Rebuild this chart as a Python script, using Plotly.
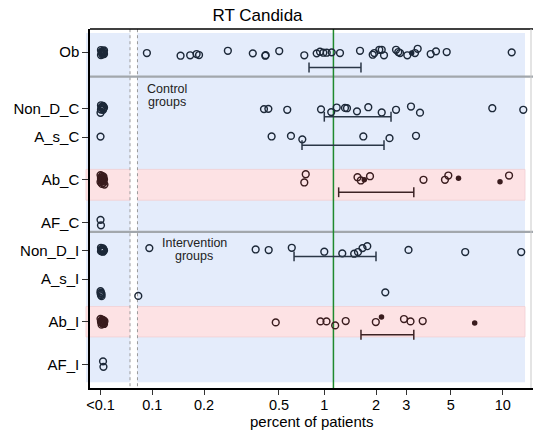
import plotly.graph_objects as go

# ---- categories -------------------------------------------------------------
rows = ["Ob", "Non_D_C", "A_s_C", "Ab_C", "AF_C", "Non_D_I", "A_s_I", "Ab_I", "AF_I"]
row_pos = [0, 4, 6, 9, 12, 14, 16, 19, 22]

# ---- x axis ticks -----------------------------------------------------------
x_tickvals = [0.05, 0.1, 0.2, 0.545, 1, 2, 3, 5.43, 10.9]
x_ticktext = ["<0.1", "0.1", "0.2", "0.5", "1", "2", "3", "5", "10"]
reference_value = 1.13

# ---- Ob ---------------------------------------------------------------------
ob_vals = [0.093, 0.146, 0.166, 0.181, 0.187, 0.275, 0.384, 0.454, 0.456, 0.547,
           0.765, 0.903, 0.944, 0.987, 1.033, 1.104, 1.234, 1.613, 1.912, 1.953,
           2.088, 2.157, 2.224, 2.612, 2.693, 2.755, 3.038, 3.368, 3.491, 4.155,
           4.461, 5.148, 12.29]
ob_jit = [0.07, 0.26, 0.23, 0.14, 0.21, -0.09, 0.09, 0.26, 0.22, -0.07,
          0.23, 0.09, -0.02, 0.05, 0.05, 0.02, 0.07, -0.09, 0.19, 0.07,
          -0.16, -0.16, 0.23, -0.16, 0.0, 0.07, 0.23, 0.07, -0.23, 0.14,
          -0.05, 0.0, 0.02]
ob_filled = [3.222]
ob_filled_jit = [0.07]
ob_below = [0.0503, 0.0517, 0.0510, 0.0524, 0.0503, 0.0517, 0.0524, 0.0510,
            0.0507, 0.0520, 0.0513]
ob_below_jit = [-0.14, -0.07, 0.07, 0.14, 0.21, 0.04, -0.11, 0.0,
                -0.03, 0.1, 0.17]
ob_ci = [0.815, 1.634]

# ---- Non_D_C ----------------------------------------------------------------
ndc_vals = [0.446, 0.473, 0.609, 0.957, 1.097, 1.181, 1.319, 1.355, 1.549, 1.802,
            2.157, 2.612, 3.192, 3.601, 9.478, 14.35]
ndc_jit = [0.02, 0.0, 0.07, 0.04, 0.23, -0.09, -0.06, -0.04, 0.18, -0.11,
           0.26, 0.07, -0.16, 0.27, -0.04, 0.07]
ndc_below = [0.0503, 0.0517, 0.0510, 0.0524, 0.0503, 0.0517, 0.0500,
             0.0513, 0.0520, 0.0507]
ndc_below_jit = [-0.25, -0.2, -0.07, -0.1, 0.05, 0.07, 0.28,
                 -0.15, -0.02, -0.12]
ndc_ci = [1.0, 2.443]

# ---- A_s_C ------------------------------------------------------------------
asc_vals = [0.494, 0.640, 0.745, 1.686, 2.394, 3.413]
asc_jit = [-0.05, -0.09, 0.15, -0.05, 0.07, -0.1]
asc_below = [0.0500]
asc_below_jit = [-0.04]
asc_ci = [0.742, 2.224]

# ---- Ab_C -------------------------------------------------------------------
abc_vals = [0.780, 0.765, 1.56, 1.63, 1.844, 3.773, 5.03, 5.261, 11.86]
abc_jit = [-0.39, 0.19, -0.18, 0.05, -0.25, 0.0, 0.0, -0.3, -0.3]
abc_filled = [1.708, 6.029, 10.51]
abc_filled_jit = [0.0, -0.11, 0.14]
abc_below = [0.0500, 0.0510, 0.0520, 0.0503, 0.0517, 0.0524,
             0.0507, 0.0513, 0.0500, 0.0520, 0.0510, 0.0527,
             0.0513, 0.0507, 0.0520, 0.0503]
abc_below_jit = [-0.33, -0.28, -0.22, -0.14, -0.09, -0.03,
                 0.02, 0.11, 0.16, 0.22, 0.29, 0.34,
                 -0.18, 0.07, 0.05, -0.06]
abc_ci = [1.212, 3.314]

# ---- AF_C -------------------------------------------------------------------
afc_below = [0.0500, 0.0503]
afc_below_jit = [-0.18, 0.21]

# ---- Non_D_I ----------------------------------------------------------------
ndi_vals = [0.0961, 0.399, 0.475, 0.647, 1.0, 1.272, 1.492, 1.570, 1.668, 1.778,
            3.087, 6.596, 13.96]
ndi_jit = [-0.19, -0.09, -0.05, -0.21, 0.07, 0.19, 0.21, 0.09, -0.19, -0.32,
           -0.06, 0.09, 0.09]
ndi_below = [0.0503, 0.0517, 0.0510, 0.0524, 0.0503, 0.0517, 0.0510,
             0.0507, 0.0520, 0.0513]
ndi_below_jit = [-0.21, -0.17, -0.08, -0.02, 0.03, 0.07, 0.05,
                 -0.12, -0.1, 0.0]
ndi_ci = [0.667, 1.998]

# ---- A_s_I ------------------------------------------------------------------
asi_vals = [0.0829, 2.263]
asi_jit = [1.18, 0.93]
asi_below = [0.0500, 0.0503, 0.0507, 0.0503, 0.0507, 0.0500]
asi_below_jit = [0.85, 0.95, 1.04, 1.12, 1.2, 1.0]
# ---- Ab_I -------------------------------------------------------------------
abi_vals = [0.522, 0.950, 1.030, 1.157, 1.332, 1.993, 2.906, 3.171, 3.734]
abi_jit = [0.05, -0.02, -0.02, 0.26, -0.05, 0.02, -0.19, -0.02, -0.05]
abi_filled = [2.151, 7.487]
abi_filled_jit = [-0.33, 0.09]
abi_below = [0.0500, 0.0510, 0.0520, 0.0527, 0.0503, 0.0517, 0.0510, 0.0524, 0.0507, 0.0517,
             0.0513, 0.0507, 0.0520]
abi_below_jit = [-0.2, -0.15, -0.1, -0.03, 0.0, 0.06, 0.1, 0.16, 0.21, -0.06,
                 -0.12, 0.04, 0.13]
abi_ci = [1.634, 3.314]

# ---- AF_I -------------------------------------------------------------------
afi_below = [0.0517, 0.0520]
afi_below_jit = [-0.21, 0.18]

# ---- styling ----------------------------------------------------------------
FONT = "Liberation Sans, Arial, sans-serif"
NAVY = "#1c2838"
MAROON = "#3a1c1e"
BAR_NAVY = "#2a3646"
BAR_MAROON = "#3c2224"
BLUE_BG = "#e4ecfb"
PINK_BG = "#fde2e4"

series = [
    dict(row="Ob", vals=ob_vals, jit=ob_jit, filled=ob_filled, fjit=ob_filled_jit,
         below=ob_below, bjit=ob_below_jit, ci=ob_ci, ci_off=1.09, color=NAVY, bar=BAR_NAVY),
    dict(row="Non_D_C", vals=ndc_vals, jit=ndc_jit, below=ndc_below, bjit=ndc_below_jit,
         ci=ndc_ci, ci_off=0.56, color=NAVY, bar=BAR_NAVY),
    dict(row="A_s_C", vals=asc_vals, jit=asc_jit, below=asc_below, bjit=asc_below_jit,
         ci=asc_ci, ci_off=0.56, color=NAVY, bar=BAR_NAVY),
    dict(row="Ab_C", vals=abc_vals, jit=abc_jit, filled=abc_filled, fjit=abc_filled_jit,
         below=abc_below, bjit=abc_below_jit, ci=abc_ci, ci_off=0.88, color=MAROON, bar=BAR_MAROON),
    dict(row="AF_C", vals=[], jit=[], below=afc_below, bjit=afc_below_jit, color=NAVY, bar=BAR_NAVY),
    dict(row="Non_D_I", vals=ndi_vals, jit=ndi_jit, below=ndi_below, bjit=ndi_below_jit,
         ci=ndi_ci, ci_off=0.4, color=NAVY, bar=BAR_NAVY),
    dict(row="A_s_I", vals=asi_vals, jit=asi_jit, below=asi_below, bjit=asi_below_jit,
         color=NAVY, bar=BAR_NAVY),
    dict(row="Ab_I", vals=abi_vals, jit=abi_jit, filled=abi_filled, fjit=abi_filled_jit,
         below=abi_below, bjit=abi_below_jit, ci=abi_ci, ci_off=0.92, color=MAROON, bar=BAR_MAROON),
    dict(row="AF_I", vals=[], jit=[], below=afi_below, bjit=afi_below_jit, color=NAVY, bar=BAR_NAVY),
]

fig = go.Figure()

for s in series:
    y0 = row_pos[rows.index(s["row"])]
    xs = list(s["below"]) + list(s["vals"])
    ys = [y0 + j for j in list(s["bjit"]) + list(s["jit"])]
    fig.add_trace(go.Scatter(
        x=xs, y=ys, mode="markers", showlegend=False, hoverinfo="skip",
        marker=dict(symbol="circle-open", size=6.8, color=s["color"],
                    line=dict(width=1.45, color=s["color"])),
    ))
    if s.get("filled"):
        fig.add_trace(go.Scatter(
            x=s["filled"], y=[y0 + j for j in s["fjit"]], mode="markers",
            showlegend=False, hoverinfo="skip",
            marker=dict(symbol="circle", size=5.5, color=s["color"], line=dict(width=0)),
        ))
    if s.get("ci"):
        yb = y0 + s["ci_off"]
        fig.add_trace(go.Scatter(
            x=s["ci"], y=[yb, yb], mode="lines+markers", showlegend=False, hoverinfo="skip",
            line=dict(color=s["bar"], width=1.5),
            marker=dict(symbol="line-ns", size=7, color=s["bar"],
                        line=dict(width=1.5, color=s["bar"])),
        ))

# ---- layout geometry ----------------------------------------------------------
W, H = 533, 432
ML, MR, MT, MB = 90, 0, 29, 44
x_range = [-1.3622, 1.2134]
y_range = [23.67, -1.622]

shapes = []
# light blue panel behind all rows (slightly wider than the axis frame on the left)
shapes.append(dict(type="rect", xref="paper", yref="y", x0=-4 / 443, x1=435 / 443,
                   y0=-1.34, y1=23.27, fillcolor=BLUE_BG, line=dict(width=0), layer="below"))
# pink highlight bands for the Ab rows
for lo, hi in [(8.27, 10.44), (17.93, 20.07)]:
    shapes.append(dict(type="rect", xref="paper", yref="y", x0=-4 / 443, x1=435 / 443,
                       y0=lo, y1=hi, fillcolor=PINK_BG,
                       line=dict(width=0.8, color="#f1cfd3"), layer="below"))
# axis break between the "<0.1" column and the log scale
shapes.append(dict(type="rect", xref="x", yref="paper", x0=0.0744, x1=0.0818,
                   y0=0, y1=1, fillcolor="white", line=dict(width=0), layer="below"))
for xv in (0.0742, 0.0820):
    shapes.append(dict(type="line", xref="x", yref="paper", x0=xv, x1=xv, y0=0.005, y1=1,
                       line=dict(color="#9a9a9a", width=1, dash="dot"), layer="below"))
# group separators
for yv in (1.73, 12.67):
    shapes.append(dict(type="line", xref="paper", yref="y", x0=0, x1=1, y0=yv, y1=yv,
                       line=dict(color="#a2a7ac", width=2.2), layer="below"))
# reference line
shapes.append(dict(type="line", xref="x", yref="paper", x0=reference_value, x1=reference_value,
                   y0=0, y1=1, line=dict(color="#1f8a2e", width=1.5), layer="below"))
# frame: top border and thin right edge
shapes.append(dict(type="line", xref="paper", yref="paper", x0=0, x1=1.0, y0=1, y1=1,
                   line=dict(color="black", width=1.5)))
shapes.append(dict(type="line", xref="paper", yref="paper", x0=441 / 443, x1=441 / 443,
                   y0=0, y1=1, line=dict(color="#c9c9c9", width=1)))

annotations = [
    dict(text="Control", xref="paper", yref="y", x=0.1738, y=2.59, showarrow=False,
         font=dict(family=FONT, size=12.5, color="#222"), xanchor="center", yanchor="middle"),
    dict(text="groups", xref="paper", yref="y", x=0.1738, y=3.5, showarrow=False,
         font=dict(family=FONT, size=12.5, color="#222"), xanchor="center", yanchor="middle"),
    dict(text="Intervention", xref="paper", yref="y", x=0.2348, y=13.46, showarrow=False,
         font=dict(family=FONT, size=12.5, color="#222"), xanchor="center", yanchor="middle"),
    dict(text="groups", xref="paper", yref="y", x=0.2348, y=14.36, showarrow=False,
         font=dict(family=FONT, size=12.5, color="#222"), xanchor="center", yanchor="middle"),
    dict(text="percent of patients", xref="paper", yref="paper", x=0.5, y=-0.094,
         showarrow=False, font=dict(family=FONT, size=15, color="black"),
         xanchor="center", yanchor="middle"),
]

fig.update_layout(
    width=W, height=H,
    margin=dict(l=ML, r=MR, t=MT, b=MB, pad=0),
    paper_bgcolor="white", plot_bgcolor="white",
    font=dict(family=FONT, size=15, color="black"),
    title=dict(text="RT Candida", x=257.5 / W, xref="container",
               xanchor="center", y=1 - 15 / H, yanchor="middle",
               font=dict(family=FONT, size=17, color="black")),
    shapes=shapes,
    annotations=annotations,
    showlegend=False,
)
fig.update_xaxes(
    type="log", range=x_range, tickmode="array", tickvals=x_tickvals, ticktext=x_ticktext,
    showgrid=False, zeroline=False, showline=True, linecolor="black", linewidth=1.5,
    ticks="outside", ticklen=5, tickwidth=1, tickcolor="#333", ticklabelstandoff=-2,
    tickfont=dict(family=FONT, size=14.5, color="black"),
)
fig.update_yaxes(
    range=y_range, tickmode="array", tickvals=row_pos, ticktext=rows,
    showgrid=False, zeroline=False, showline=True, linecolor="black", linewidth=1.5,
    ticks="outside", ticklen=6, tickwidth=1, tickcolor="#333",
    tickfont=dict(family=FONT, size=15, color="black"),
)

fig.write_html("out.html", config={"displayModeBar": False})
